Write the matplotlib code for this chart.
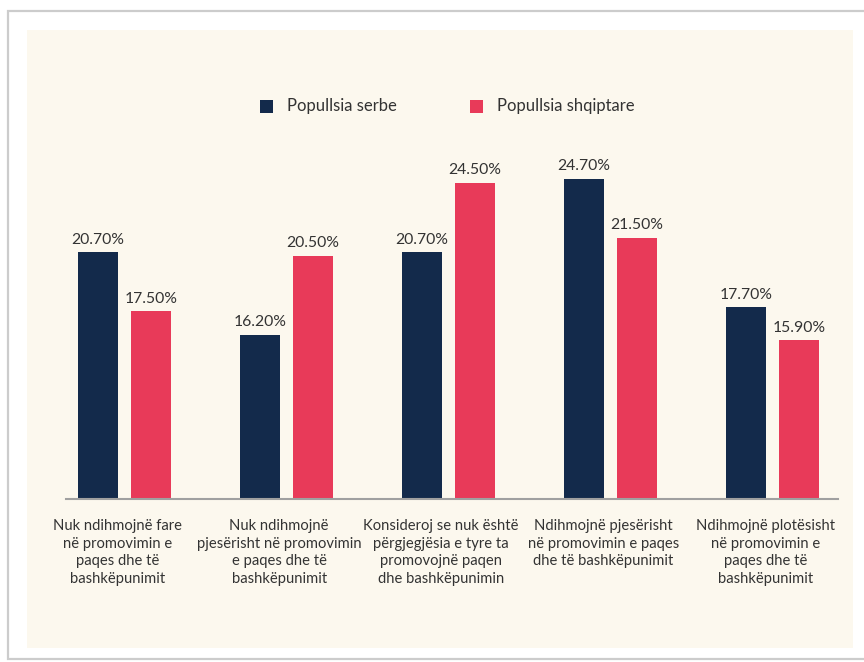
import matplotlib.pyplot as plt
import numpy as np
from matplotlib.patches import Rectangle

categories = [
    "Nuk ndihmojnë fare\nnë promovimin e\npaqes dhe të\nbashkëpunimit",
    "Nuk ndihmojnë\npjesërisht në promovimin\ne paqes dhe të\nbashkëpunimit",
    "Konsideroj se nuk është\npërgjegjësia e tyre ta\npromovojnë paqen\ndhe bashkëpunimin",
    "Ndihmojnë pjesërisht\nnë promovimin e paqes\ndhe të bashkëpunimit",
    "Ndihmojnë plotësisht\nnë promovimin e\npaqes dhe të\nbashkëpunimit",
]
serbe = [20.7, 16.2, 20.7, 24.7, 17.7]
shqiptare = [17.5, 20.5, 24.5, 21.5, 15.9]
series_names = ["Popullsia serbe", "Popullsia shqiptare"]

navy = "#132a4b"
red = "#e83a59"
cream = "#fcf8ee"
txt = "#333333"

plt.rcParams['font.family'] = ['Lato', 'DejaVu Sans']

fig = plt.figure(figsize=(8.64, 6.62), dpi=100)
W, H = 864, 662

def fx(px):
    return px / W

def fy(py):
    return 1 - py / H

# card frame with a soft shadow line
fig.patches.append(Rectangle((fx(8), fy(659)), fx(920 - 8), fy(11) - fy(659),
                             transform=fig.transFigure, facecolor="white",
                             edgecolor="#cccccc", lw=1.6, zorder=-3))
fig.patches.append(Rectangle((fx(27), fy(648)), fx(853 - 27), fy(30) - fy(648),
                             transform=fig.transFigure, facecolor=cream,
                             edgecolor="none", zorder=-2))

ax = fig.add_axes([fx(66), fy(499), fx(838 - 66), fy(100) - fy(499)])
ax.set_facecolor("none")
ax.set_zorder(1)

x = np.arange(len(categories))
w = 0.247
off = 0.164
b1 = ax.bar(x - off, serbe, w, color=navy)
b2 = ax.bar(x + off, shqiptare, w, color=red)

for bars, vals in ((b1, serbe), (b2, shqiptare)):
    for b, v in zip(bars, vals):
        ax.annotate(f"{v:.2f}%", (b.get_x() + b.get_width() / 2, v),
                    xytext=(0, 4), textcoords="offset points",
                    ha="center", va="bottom", fontsize=11.3, color=txt)

ax.set_xlim(-0.361, 4.404)
ax.set_ylim(7.26, 29.0)

for s in ["top", "right", "left"]:
    ax.spines[s].set_visible(False)
ax.spines["bottom"].set_color("#a0a0a0")
ax.spines["bottom"].set_linewidth(1.5)
ax.set_yticks([])
ax.set_xticks([])

for i, c in enumerate(categories):
    ax.text(i - 0.045, -0.05, c, transform=ax.get_xaxis_transform(),
            ha="center", va="top", fontsize=10.6, color=txt, linespacing=1.33)

# legend drawn by hand to match placement
for px, name, col in ((260, series_names[0], navy), (470, series_names[1], red)):
    fig.patches.append(Rectangle((fx(px), fy(113)), fx(13), fy(100) - fy(113),
                                 transform=fig.transFigure, facecolor=col,
                                 edgecolor="none"))
    fig.text(fx(px + 27), fy(106), name, ha="left", va="center",
             fontsize=12, color=txt)

fig.savefig("out.png", dpi=100)
